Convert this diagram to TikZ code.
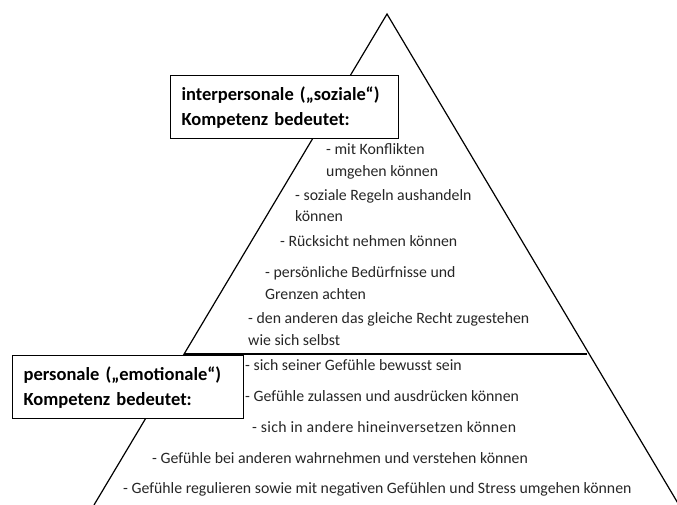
\documentclass[tikz,border=0pt]{standalone}
\usepackage{fontspec}
\setmainfont{Carlito}

\begin{document}
\begin{tikzpicture}[x=1pt,y=-1pt,
kasten/.style={draw,line width=1.2pt,fill=white,anchor=north west,align=left,
  font=\fontsize{18.5}{25}\selectfont\bfseries,minimum height=63pt,inner xsep=11pt},
zeile/.style={anchor=west,inner sep=0pt,text height=11pt,text depth=3.5pt,
  text=black!85,font=\fontsize{15.8}{18}\selectfont}]
\useasboundingbox (0,0) rectangle (677,505);
\coordinate (a) at (387,14);
\coordinate (l) at (94,505);
\coordinate (r) at (679,505);
\coordinate (dl) at (184,354);
\coordinate (dr) at (587,354);
\draw[-,line width=1.2pt] (l) -- (a) -- (r);
\draw[-,line width=1.2pt] (dl) -- (dr);
\node[kasten,text width=206pt] (soz) at (170,75) {interpersonale („soziale“)\\Kompetenz bedeutet:};
\node[kasten,text width=209pt] (emo) at (12,355) {personale („emotionale“)\\Kompetenz bedeutet:};
\foreach \n/\x/\y/\t in {
1/326/151/{- mit Konflikten},
2/326/173/{umgehen können},
3/295/197/{- soziale Regeln aushandeln},
4/295/218/{können},
5/280/243/{- Rücksicht nehmen können},
6/265/274/{- persönliche Bedürfnisse und},
7/265/296/{Grenzen achten},
8/248/320/{- den anderen das gleiche Recht zugestehen},
9/248/342/{wie sich selbst},
10/245/367/{- sich seiner Gefühle bewusst sein},
11/245/398/{- Gefühle zulassen und ausdrücken können},
12/252/429/{\addfontfeature{LetterSpace=2}- sich in andere hineinversetzen können},
13/152/460/{- Gefühle bei anderen wahrnehmen und verstehen können},
14/123/490/{- Gefühle regulieren sowie mit negativen Gefühlen und Stress umgehen können}}
{
\node[zeile] (z\n) at (\x,\y) {\t};
}

\end{tikzpicture}
\end{document}
